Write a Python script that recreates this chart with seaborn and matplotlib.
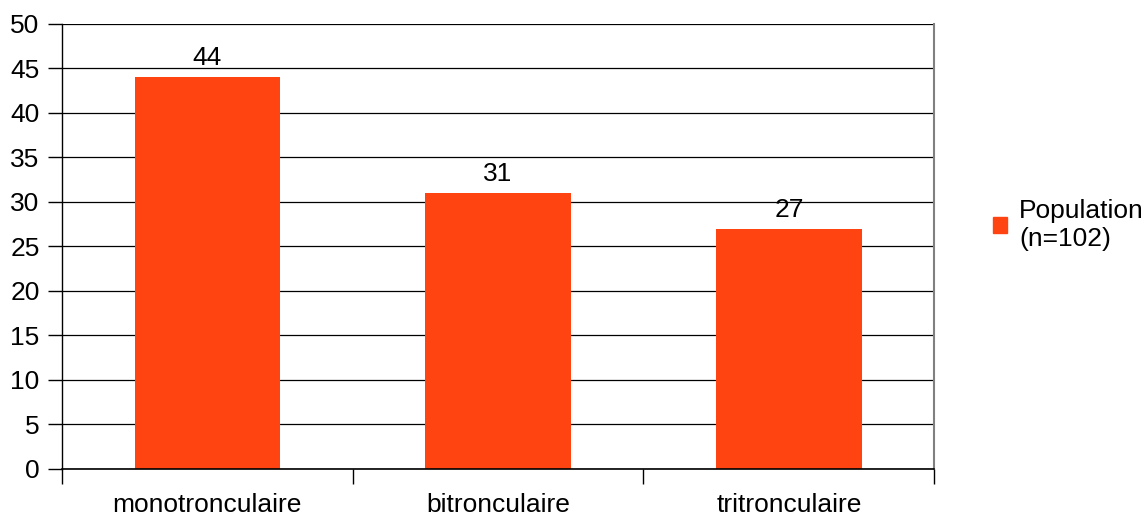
import matplotlib
matplotlib.use("Agg")
import matplotlib.pyplot as plt
import seaborn as sns
import pandas as pd

categories = ["monotronculaire", "bitronculaire", "tritronculaire"]
values = [44, 31, 27]
series_name = "Population\n(n=102)"

df = pd.DataFrame({"type": categories, "count": values, "serie": series_name})

sns.set_theme(style="white")
plt.rcParams["font.family"] = ["Liberation Sans", "DejaVu Sans"]
plt.rcParams["text.color"] = "black"
plt.rcParams["xtick.labelcolor"] = "black"
plt.rcParams["ytick.labelcolor"] = "black"

fig = plt.figure(figsize=(11.45, 5.17), dpi=100)
ax = fig.add_axes([0.054, 0.093, 0.762, 0.861])

sns.barplot(data=df, x="type", y="count", hue="serie", palette=["#FF4411"],
            width=0.5, saturation=1, ax=ax, legend=False, edgecolor="none",
            linewidth=0)

ax.set_ylim(0, 50)
ax.set_xlim(-0.5, 2.5)
ax.set_yticks(range(0, 51, 5))
ax.yaxis.grid(True, color="black", linewidth=0.9)
ax.set_axisbelow(True)
ax.set_xlabel("")
ax.set_ylabel("")

# ticks between categories, labels under the bars
ax.set_xticks([-0.5, 0.5, 1.5, 2.5], minor=True)
ax.tick_params(axis="x", which="minor", length=11, width=1, color="black", bottom=True)
ax.tick_params(axis="x", which="major", length=0, labelsize=19, pad=17, labelcolor="black")
ax.tick_params(axis="y", length=10, width=1, color="black", left=True, labelsize=19,
               pad=6, labelcolor="black")

ax.spines["top"].set_visible(False)
ax.spines["left"].set_color("black")
ax.spines["bottom"].set_color("black")
ax.spines["right"].set_color("#808080")
ax.spines["left"].set_linewidth(1)
ax.spines["bottom"].set_linewidth(1.2)
ax.spines["right"].set_linewidth(1.5)

for cont in ax.containers:
    ax.bar_label(cont, fontsize=19, padding=5, color="black")

handle = plt.Rectangle((0, 0), 1, 1, color="#FF4411")
fig.legend([handle], [series_name], loc="center left",
           bbox_to_anchor=(0.867, 0.565), frameon=False, fontsize=19,
           handlelength=0.55, handleheight=0.55, handletextpad=0.45,
           labelspacing=0.2, borderaxespad=0, borderpad=0, labelcolor="black")

fig.savefig("out.png", dpi=100, facecolor="white")
